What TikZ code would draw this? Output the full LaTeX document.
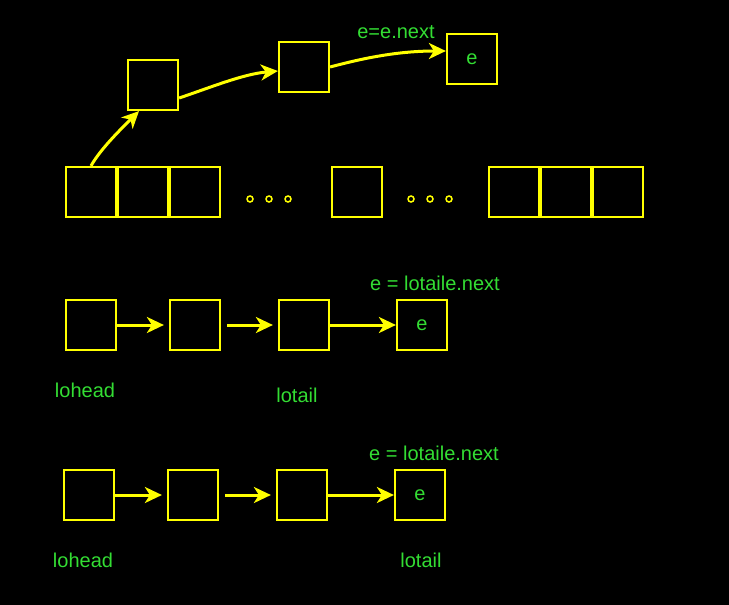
\documentclass[tikz,border=0pt]{standalone}
\usepackage{fontspec}
\setmainfont{Liberation Sans}
\usetikzlibrary{arrows.meta}

\definecolor{boxyellow}{RGB}{255,255,0}
\definecolor{txtgreen}{RGB}{51,221,51}

\tikzset{
	cell/.style={draw=boxyellow,line width=2.2pt,minimum size=50pt,inner sep=0pt,text=txtgreen,font=\fontsize{20}{22}\selectfont},
	lbl/.style={text=txtgreen,inner sep=0pt,font=\fontsize{20}{22}\selectfont},
	link/.style={draw=boxyellow,line width=3pt,-{Stealth[length=17pt,width=16pt,inset=5pt]}},
	dot/.style={draw=boxyellow,line width=1.5pt}
}

\begin{document}
\begin{tikzpicture}[x=1pt,y=-1pt]
	\fill[black] (0,0) rectangle (729,605);
	\node[cell] (t1) at (153,85) {};
	\node[cell] (t2) at (304,67) {};
	\node[cell] (t3) at (472,59) {e};
	\node[lbl] (tlabel) at (396,32) {e=e.next};
	\node[cell] (a1) at (91,192) {};
	\node[cell] (a2) at (143,192) {};
	\node[cell] (a3) at (195,192) {};
	\node[cell] (amid) at (357,192) {};
	\node[cell] (a4) at (514,192) {};
	\node[cell] (a5) at (566,192) {};
	\node[cell] (a6) at (618,192) {};
	\foreach \x in {250,269,288,411,430,449}
		\draw[dot] (\x,199) circle (3);
	\node[cell] (p1) at (91,325) {};
	\node[cell] (p2) at (195,325) {};
	\node[cell] (p3) at (304,325) {};
	\node[cell] (p4) at (422,325) {e};
	\node[lbl] (plabel) at (435,283) {e = lotaile.next};
	\node[lbl] (phead) at (85,390) {lohead};
	\node[lbl] (ptail) at (297,395) {lotail};
	\node[cell] (q1) at (89,495) {};
	\node[cell] (q2) at (193,495) {};
	\node[cell] (q3) at (302,495) {};
	\node[cell] (q4) at (420,495) {e};
	\node[lbl] (qlabel) at (434,453) {e = lotaile.next};
	\node[lbl] (qhead) at (83,560) {lohead};
	\node[lbl] (qtail) at (421,560) {lotail};
	\draw[link]
		(a1.north) .. controls +(10,-18) and +(-14,14) .. ([xshift=-14pt]t1.south);
	\draw[link]
		([yshift=-13pt]t1.east) .. controls +(30,-10) and +(-35,3) .. ([yshift=-4pt]t2.west);
	\draw[link]
		(t2.east) .. controls +(30,-8) and +(-50,0) .. ([yshift=8pt]t3.west);
	\draw[link,shorten >=5pt] (p1) -- (p2);
	\draw[link,shorten <=6pt,shorten >=5pt] (p2) -- (p3);
	\draw[link] (p3) -- (p4);
	\draw[link,shorten >=5pt] (q1) -- (q2);
	\draw[link,shorten <=6pt,shorten >=5pt] (q2) -- (q3);
	\draw[link] (q3) -- (q4);
\end{tikzpicture}
\end{document}
